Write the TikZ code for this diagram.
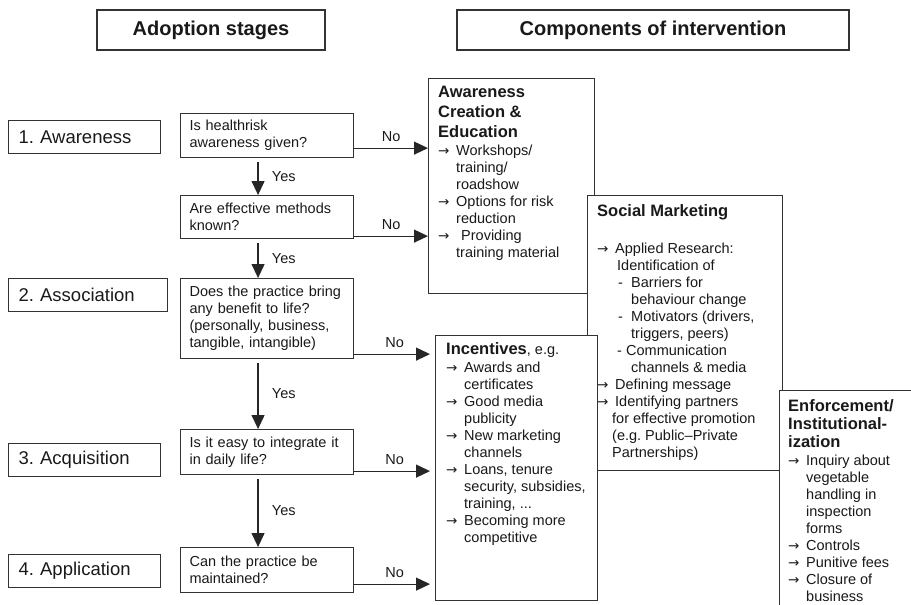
\documentclass[tikz,border=0pt]{standalone}
\usepackage{fontspec}
\setmainfont{Liberation Sans}
\newfontfamily\arrfont{DejaVu Sans}
\usetikzlibrary{arrows.meta, positioning}

\frenchspacing
\newcommand{\hfont}{\fontsize{16.5}{20}\selectfont\bfseries}
\newcommand{\arglyph}{{\arrfont\fontsize{13.5}{17}\selectfont →}}
\newcommand{\aritem}{\makebox[18pt][l]{\arglyph}}
\newcommand{\aind}{\hspace*{18pt}}

\begin{document}
\begin{tikzpicture}[x=1pt, y=-1pt,
    every node/.style={text=black!90},
    titlebox/.style={draw=black!80, line width=1.1pt, minimum height=40pt, font=\fontsize{20}{24}\selectfont\bfseries},
    stagebox/.style={draw=black!80, line width=1.1pt, anchor=north west, minimum height=33pt, inner xsep=10pt, align=left, font=\fontsize{18.5}{22}\selectfont},
    qbox/.style={draw=black!80, line width=1.1pt, anchor=north west, inner xsep=9pt, text width=155pt, align=left, font=\fontsize{14.5}{17}\selectfont},
    compbox/.style={draw=black!80, line width=1.1pt, fill=white, anchor=north west},
    comptext/.style={anchor=north west, inner sep=0pt, align=left, font=\fontsize{14.5}{17}\selectfont},
    yesarrow/.style={draw=black!85, line width=1.2pt, -{Triangle[length=14pt,width=13pt]}, shorten <=4pt},
    noarrow/.style={draw=black!85, line width=1.2pt, -{Triangle[length=14pt,width=13pt]}},
    lbl/.style={font=\fontsize{14.5}{17}\selectfont}]

    \clip (0,0) rectangle (911,605);

    % column headings
    \node[titlebox, minimum width=228pt] (adopt) at (211,30) {Adoption stages};
    \node[titlebox, minimum width=392pt] (comp) at (653,30) {Components of intervention};

    % adoption stages
    \node[stagebox, text width=132pt] (st1) at (8,120) {1. Awareness};
    \node[stagebox, text width=139pt] (st2) at (8,278) {2. Association};
    \node[stagebox, text width=132pt] (st3) at (8,443) {3. Acquisition};
    \node[stagebox, text width=132pt] (st4) at (8,554) {4. Application};

    % questions
    \node[qbox, minimum height=44pt] (q1) at (180,113) {Is healthrisk\\awareness given?};
    \node[qbox, minimum height=43pt] (q2) at (180,195) {Are effective methods\\known?};
    \node[qbox, minimum height=80pt] (q3) at (180,278) {Does the practice bring\\any benefit to life?\\(personally, business,\\tangible, intangible)};
    \node[qbox, minimum height=45pt] (q4) at (180,429) {Is it easy to integrate it\\in daily life?};
    \node[qbox, minimum height=45pt] (q5) at (180,547) {Can the practice be\\maintained?};

    % awareness creation
    \node[compbox, minimum width=166pt, minimum height=215pt] (aware) at (428,78) {};
    \node[comptext] (awaretxt) at ([xshift=10pt,yshift=-8pt]aware.north west)
        {{\hfont Awareness}\\[3pt]{\hfont Creation \&}\\[3pt]{\hfont Education}\\[1pt]
         \aritem Workshops/\\\aind training/\\\aind roadshow\\
         \aritem Options for risk\\\aind reduction\\
         \makebox[23pt][l]{\arglyph}Providing\\\aind training material};

    % social marketing
    \node[compbox, minimum width=195pt, minimum height=275pt] (social) at (587,195) {};
    \node[comptext] (socialtxt) at ([xshift=10pt,yshift=-9pt]social.north west)
        {{\hfont Social Marketing}\\[20pt]
         \aritem Applied Research:\\
         \hspace*{20pt}Identification of\\
         \hspace*{21pt}\makebox[13pt][l]{-}Barriers for\\
         \hspace*{34pt}behaviour change\\
         \hspace*{21pt}\makebox[13pt][l]{-}Motivators (drivers,\\
         \hspace*{34pt}triggers, peers)\\
         \hspace*{20pt}\makebox[9pt][l]{-}Communication\\
         \hspace*{34pt}channels \& media\\
         \aritem Defining message\\
         \aritem Identifying partners\\
         \hspace*{15pt}for effective promotion\\
         \hspace*{15pt}(e.g. Public--Private\\
         \hspace*{15pt}Partnerships)};

    % incentives
    \node[compbox, minimum width=162pt, minimum height=265pt] (incent) at (435,335) {};
    \node[comptext] (incenttxt) at ([xshift=11pt,yshift=-7pt]incent.north west)
        {{\hfont Incentives}, e.g.\\[1pt]
         \aritem Awards and\\\aind certificates\\
         \aritem Good media\\\aind publicity\\
         \aritem New marketing\\\aind channels\\
         \aritem Loans, tenure\\\aind security, subsidies,\\\aind training, ...\\
         \aritem Becoming more\\\aind competitive};

    % enforcement
    \node[compbox, minimum width=160pt, minimum height=240pt] (enforce) at (779,390) {};
    \node[comptext] (enforcetxt) at ([xshift=9pt,yshift=-9pt]enforce.north west)
        {{\hfont Enforcement/}\\[1pt]{\hfont Institutional-}\\[1pt]{\hfont ization}\\[1pt]
         \aritem Inquiry about\\\aind vegetable\\\aind handling in\\\aind inspection\\\aind forms\\
         \aritem Controls\\
         \aritem Punitive fees\\
         \aritem Closure of\\\aind business};

    % yes arrows
    \draw[yesarrow] ([xshift=-9pt]q1.south) -- ([xshift=-9pt]q2.north) node[lbl, midway, right=10pt] {Yes};
    \draw[yesarrow] ([xshift=-9pt]q2.south) -- ([xshift=-9pt]q3.north) node[lbl, midway, right=10pt] {Yes};
    \draw[yesarrow] ([xshift=-9pt]q3.south) -- ([xshift=-9pt]q4.north) node[lbl, midway, right=10pt] {Yes};
    \draw[yesarrow] ([xshift=-9pt]q4.south) -- ([xshift=-9pt]q5.north) node[lbl, midway, right=10pt] {Yes};

    % no arrows
    \draw[noarrow] ([yshift=10pt]q1.south east) -- ([yshift=10pt]q1.south east -| aware.west) node[lbl, midway, above=3pt] {No};
    \draw[noarrow] ([yshift=3pt]q2.south east) -- ([yshift=3pt]q2.south east -| aware.west) node[lbl, midway, above=3pt] {No};
    \draw[noarrow, shorten >=5pt] ([yshift=5pt]q3.south east) -- ([yshift=5pt]q3.south east -| incent.west) node[lbl, midway, above=3pt] {No};
    \draw[noarrow, shorten >=5pt] ([yshift=4pt]q4.south east) -- ([yshift=4pt]q4.south east -| incent.west) node[lbl, midway, above=3pt] {No};
    \draw[noarrow, shorten >=5pt] ([yshift=9pt]q5.south east) -- ([yshift=9pt]q5.south east -| incent.west) node[lbl, midway, above=3pt] {No};
\end{tikzpicture}
\end{document}
